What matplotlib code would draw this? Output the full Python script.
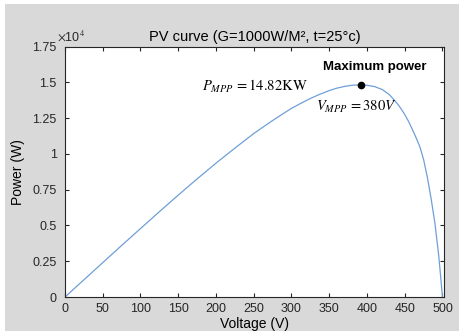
import matplotlib
matplotlib.use("Agg")
import matplotlib.pyplot as plt
from matplotlib.patches import Rectangle
from matplotlib.ticker import FuncFormatter

# PV curve (voltage in V, power in W)
voltage = [0, 25, 50, 75, 100, 125, 150, 175, 200, 225, 250, 262, 275, 287,
           300, 312, 325, 337, 350, 360, 370, 380, 385, 392, 400, 410, 420,
           430, 440, 445, 450, 455, 460, 465, 470, 475, 480, 485, 490, 495,
           500]
power = [0, 1200, 2400, 3600, 4780, 5960, 7120, 8250, 9350, 10400, 11420,
         11860, 12330, 12740, 13180, 13520, 13870, 14150, 14420, 14590, 14710,
         14790, 14810, 14820, 14790, 14700, 14500, 14120, 13520, 13160,
         12750, 12270, 11720, 11130, 10500, 9600, 8350, 6850, 5150, 2900, 0]

mpp_v = 392
mpp_p = 14820
x_ticks = [0, 50, 100, 150, 200, 250, 300, 350, 400, 450, 500]
y_ticks = [0, 2500, 5000, 7500, 10000, 12500, 15000, 17500]

plt.rcParams['font.family'] = ['Liberation Sans', 'DejaVu Sans']
plt.rcParams['mathtext.fontset'] = 'stix'

fig = plt.figure(figsize=(4.73, 3.31), dpi=100, facecolor='white')
# grey figure panel like the MATLAB window
fig.patches.append(Rectangle((5 / 473, 0), 454 / 473, 327 / 331,
                             transform=fig.transFigure, facecolor='#d9d9d9',
                             edgecolor='none', zorder=-10))

ax = fig.add_axes([65 / 473, 34 / 331, 379 / 473, 250.5 / 331])
ax.plot(voltage, power, color='#6f9fd8', lw=0.9)
ax.plot([mpp_v], [mpp_p], 'o', color='black', ms=4.5)

ax.set_xlim(0, 502)
ax.set_ylim(0, 17500)
ax.set_xticks(x_ticks)
ax.set_yticks(y_ticks)
ax.yaxis.set_major_formatter(FuncFormatter(lambda v, p: '%g' % (v / 1e4)))
ax.tick_params(direction='in', length=3, width=0.8, top=True, right=True,
               labelsize=9, colors='#262626', pad=4)
ax.tick_params(axis='y', pad=6)
for s in ax.spines.values():
    s.set_color('#262626')
    s.set_linewidth(0.8)

ax.text(-0.022, 1.012, r'$\times$10$^4$', transform=ax.transAxes,
        fontsize=9, color='#262626', ha='left', va='bottom')
ax.set_title('PV curve (G=1000W/M², t=25°c)', fontsize=10.5, pad=4)
ax.set_xlabel('Voltage (V)', fontsize=10, labelpad=2)
ax.set_ylabel('Power (W)', fontsize=10, labelpad=5)

ax.text(182, 14700, r'$P_{MPP}\,=14.82\mathrm{KW}$', fontsize=10.5,
        va='center')
ax.text(333, 13300, r'$V_{MPP}\,=380V$', fontsize=10.5, va='center')
ax.text(342, 16050, 'Maximum power', fontsize=9.5, fontweight='bold',
        va='center')

fig.savefig('out.png', dpi=100, facecolor=fig.get_facecolor())
